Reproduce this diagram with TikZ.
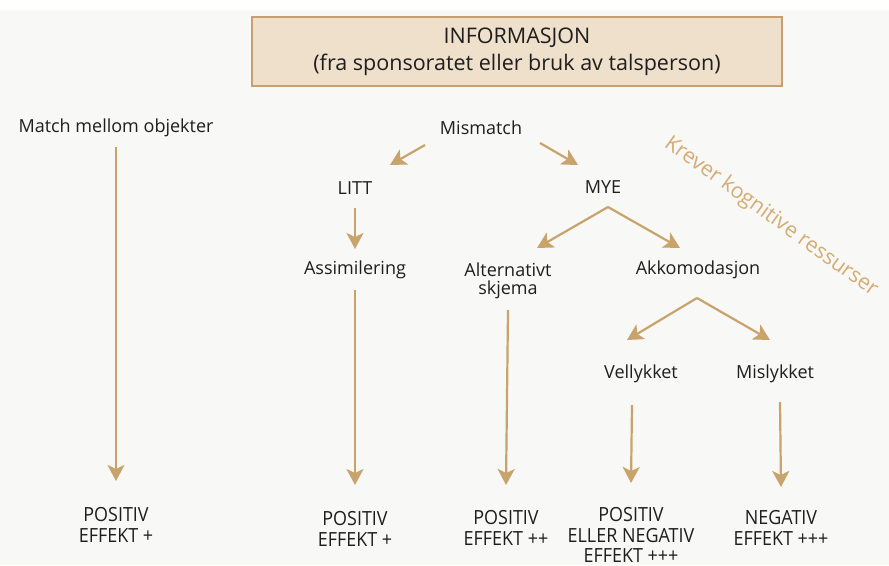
\documentclass[tikz,border=0pt]{standalone}
\usepackage{fontspec}
\setmainfont{Open Sans}
\newfontfamily\condfont[FakeStretch=0.92]{Open Sans}
\usetikzlibrary{arrows.meta,calc}
\definecolor{bg}{RGB}{248,248,246}
\definecolor{tan}{RGB}{201,163,108}
\definecolor{boxfill}{RGB}{238,224,203}
\definecolor{boxline}{RGB}{196,160,112}
\definecolor{txt}{RGB}{30,30,30}
\definecolor{rot}{RGB}{212,172,116}
\tikzset{
  lbl/.style={text=txt, font=\fontsize{18}{20}\selectfont, inner sep=2pt, align=center},
  res/.style={text=txt, font=\condfont\fontsize{19.5}{20.5}\selectfont, inner sep=0pt, align=center},
  arr/.style={draw=tan, line width=2.2pt, -{Stealth[length=16pt,width=17pt,inset=4pt]}},
}
\begin{document}
\begin{tikzpicture}[x=1pt,y=-1pt]
\fill[bg] (0,0) rectangle (889,565);
\fill[white] (0,0) rectangle (889,10);
\useasboundingbox (0,0) rectangle (889,565);
\node[draw=boxline, line width=1.8pt, fill=boxfill, minimum width=530pt, minimum height=69pt, align=center, text=txt,
  font=\fontsize{21.5}{27}\selectfont] (info) at (517,51.5)
  {INFORMASJON\\(fra sponsoratet eller bruk av talsperson)};

\node[lbl] (match) at (116,128) {Match mellom objekter};
\node[lbl] (mis) at (481,128) {Mismatch};
\node[lbl] (litt) at (355,188) {LITT};
\node[lbl] (mye) at (603,187) {MYE};
\node[lbl] (assim) at (355,270) {Assimilering};
\node[lbl] (alt) at (508,281) {Alternativt\\[-2pt]skjema};
\node[lbl] (akk) at (698,270) {Akkomodasjon};
\node[lbl] (vel) at (641,374) {Vellykket};
\node[lbl] (misl) at (775,374) {Mislykket};

\node[res] (r1) at (116,525) {POSITIV\\EFFEKT +};
\node[res] (r2) at (355,529) {POSITIV\\EFFEKT +};
\node[res] (r3) at (506,528) {POSITIV\\EFFEKT ++};
\node[res] (r4) at (631,535) {POSITIV\\ELLER NEGATIV\\EFFEKT +++};
\node[res] (r5) at (781,528) {NEGATIV\\EFFEKT +++};

\node[text=rot, rotate=-35.8, font=\fontsize{21.3}{24}\selectfont] (krev) at (771,217) {Krever kognitive ressurser};

\draw[arr] ($(match)+(0,19)$) -- ($(r1)+(0,-44)$);
\draw[arr] ($(mis)+(-56,17)$) -- ($(litt)+(35,-23)$);
\draw[arr] ($(mis)+(59,15)$) -- ($(mye)+(-25,-22)$);
\draw[arr] ($(litt)+(0,20)$) -- ($(assim)+(0,-21)$);
\draw[arr] ($(assim)+(0,20)$) -- ($(r2)+(0,-44)$);
\draw[arr] ($(mye)+(5,20)$) -- ($(alt)+(29,-33)$);
\draw[arr] ($(mye)+(5,20)$) -- ($(akk)+(-18,-22)$);
\draw[arr] ($(alt)+(0,29)$) -- ($(r3)+(0,-43)$);
\draw[arr] ($(akk)+(-1,28)$) -- ($(vel)+(-14,-34)$);
\draw[arr] ($(akk)+(-1,28)$) -- ($(misl)+(-5,-34)$);
\draw[arr] ($(vel)+(-9,31)$) -- ($(r4)+(0,-52)$);
\draw[arr] ($(misl)+(5,28)$) -- ($(r5)+(0,-41)$);
\end{tikzpicture}
\end{document}
